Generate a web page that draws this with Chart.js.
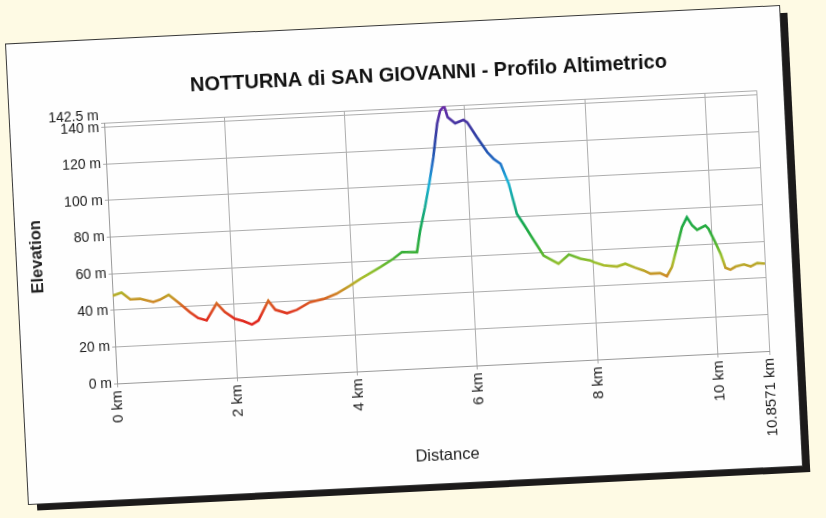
<!DOCTYPE html>
<html>
<head>
<meta charset="utf-8">
<script src="https://cdn.jsdelivr.net/npm/chart.js@4.4.1/dist/chart.umd.min.js"></script>
<style>
  html, body { margin: 0; padding: 0; }
  body { width: 826px; height: 518px; background: #fefae4; overflow: hidden; position: relative; }
  #card {
    position: absolute; left: 17px; top: 24.5px; width: 774px; height: 460px;
    background: #fefefe;
    box-shadow: 0 0 0 1px #3a3a3a, 8px 7px 0 #1c1a1a;
    transform: rotate(-2.85deg);
  }
  #c { position: absolute; left: 0; top: 0; }
</style>
</head>
<body>
<div id="card"><canvas id="c" width="774" height="460"></canvas></div>
<script>
const titleText = 'NOTTURNA di SAN GIOVANNI - Profilo Altimetrico';
const xAxisTitle = 'Distance';
const yAxisTitle = 'Elevation';

const distanceKm = [0.00, 0.15, 0.29, 0.45, 0.67, 0.78, 0.93, 1.11, 1.27, 1.40, 1.54, 1.72, 1.85, 2.01, 2.15, 2.29, 2.40, 2.58, 2.69, 2.88, 3.05, 3.27, 3.50, 3.72, 3.95, 4.13, 4.47, 4.69, 4.84, 5.09, 5.16, 5.26, 5.36, 5.44, 5.53, 5.59, 5.66, 5.71, 5.83, 5.97, 6.03, 6.18, 6.34, 6.44, 6.55, 6.67, 6.78, 6.88, 7.04, 7.19, 7.43, 7.61, 7.80, 7.96, 8.02, 8.18, 8.40, 8.54, 8.70, 8.84, 8.95, 9.11, 9.22, 9.31, 9.41, 9.51, 9.60, 9.68, 9.76, 9.90, 9.95, 10.05, 10.13, 10.20, 10.28, 10.37, 10.51, 10.62, 10.73, 10.8571];
const elevationM = [48.0, 49.5, 45.5, 45.6, 43.5, 44.5, 47.0, 41.8, 36.9, 33.5, 32.0, 41.0, 36.0, 32.1, 30.6, 28.5, 30.5, 41.0, 35.9, 33.7, 35.3, 39.1, 40.5, 43.0, 47.0, 50.5, 56.3, 60.5, 63.9, 63.5, 75.2, 87.8, 102.2, 114.9, 133.0, 140.1, 142.5, 136.3, 132.8, 134.4, 133.0, 124.6, 116.1, 112.3, 109.4, 98.3, 81.7, 76.1, 66.7, 58.2, 53.3, 58.1, 55.5, 54.3, 53.2, 51.2, 50.2, 51.5, 49.1, 47.3, 45.4, 45.4, 43.6, 48.4, 59.1, 69.9, 75.2, 70.6, 68.1, 70.2, 68.3, 60.8, 54.4, 46.6, 45.4, 47.0, 47.9, 46.6, 48.3, 47.8];

const xTickValues = [0, 2, 4, 6, 8, 10, 10.8571];
const yTickValues = [0, 20, 40, 60, 80, 100, 120, 140, 142.5];

// elevation -> colour stops for the line gradient
const colourStopElev = [28, 33, 40, 44, 48, 52, 58, 64, 75, 88, 100, 110, 120, 132, 142.5];
const colourStopHex  = ['#e0201a', '#e03020', '#d85e22', '#cc8c26', '#b8aa2a', '#a2c02a', '#64b830', '#34ae36', '#16a84a', '#14a890', '#18b0d8', '#2070c8', '#2448a8', '#4034a0', '#6a2aa8'];

const FONT = "'Liberation Sans', Arial, sans-serif";
Chart.defaults.font.family = FONT;

function lineGradient(context) {
  const chart = context.chart;
  const area = chart.chartArea;
  if (!area) return '#c0a020';
  const y = chart.scales.y;
  const lo = colourStopElev[0], hi = colourStopElev[colourStopElev.length - 1];
  const g = chart.ctx.createLinearGradient(0, y.getPixelForValue(lo), 0, y.getPixelForValue(hi));
  colourStopElev.forEach((e, i) => g.addColorStop((e - lo) / (hi - lo), colourStopHex[i]));
  return g;
}

new Chart(document.getElementById('c'), {
  type: 'line',
  data: {
    datasets: [{
      data: distanceKm.map((d, i) => ({ x: d, y: elevationM[i] })),
      borderColor: lineGradient,
      borderWidth: 2.6,
      pointRadius: 0,
      tension: 0,
      fill: false
    }]
  },
  options: {
    responsive: false,
    animation: false,
    layout: { padding: { left: 0, right: 27, top: 0, bottom: 0 } },
    plugins: {
      legend: { display: false },
      tooltip: { enabled: false },
      title: {
        display: true, text: titleText, color: '#111', fullSize: false,
        font: { family: FONT, size: 20, weight: 'bold', lineHeight: 1.2 },
        padding: { top: 38, bottom: 21.2 }
      }
    },
    scales: {
      x: {
        type: 'linear', min: 0, max: 10.8571,
        afterBuildTicks: s => { s.ticks = xTickValues.map(v => ({ value: v })); },
        afterFit: s => { s.height = 116; },
        ticks: {
          autoSkip: false, maxRotation: 90, minRotation: 90, padding: 3, color: '#222',
          font: { family: FONT, size: 15 },
          callback: v => v + ' km'
        },
        grid: { color: '#adadad', lineWidth: 1, tickLength: 4 },
        border: { color: '#9a9a9a' },
        title: { display: true, text: xAxisTitle, color: '#222', font: { family: FONT, size: 16.5 }, padding: { top: 0, bottom: 18 } }
      },
      y: {
        type: 'linear', min: 0, max: 142.5,
        afterBuildTicks: s => { s.ticks = yTickValues.map(v => ({ value: v })); },
        afterFit: s => { s.width = 94; },
        ticks: {
          autoSkip: false, padding: 2, color: '#1a1a1a',
          font: { family: FONT, size: 14, lineHeight: 1.0 },
          callback: v => (v === 142.5 ? ['142.5 m', ''] : v + ' m')
        },
        grid: { color: '#adadad', lineWidth: 1, tickLength: 3 },
        border: { color: '#9a9a9a' },
        title: { display: true, text: yAxisTitle, color: '#222', font: { family: FONT, size: 16.5, weight: 'bold' }, padding: { top: 11, bottom: 0 } }
      }
    }
  }
});
</script>
</body>
</html>
